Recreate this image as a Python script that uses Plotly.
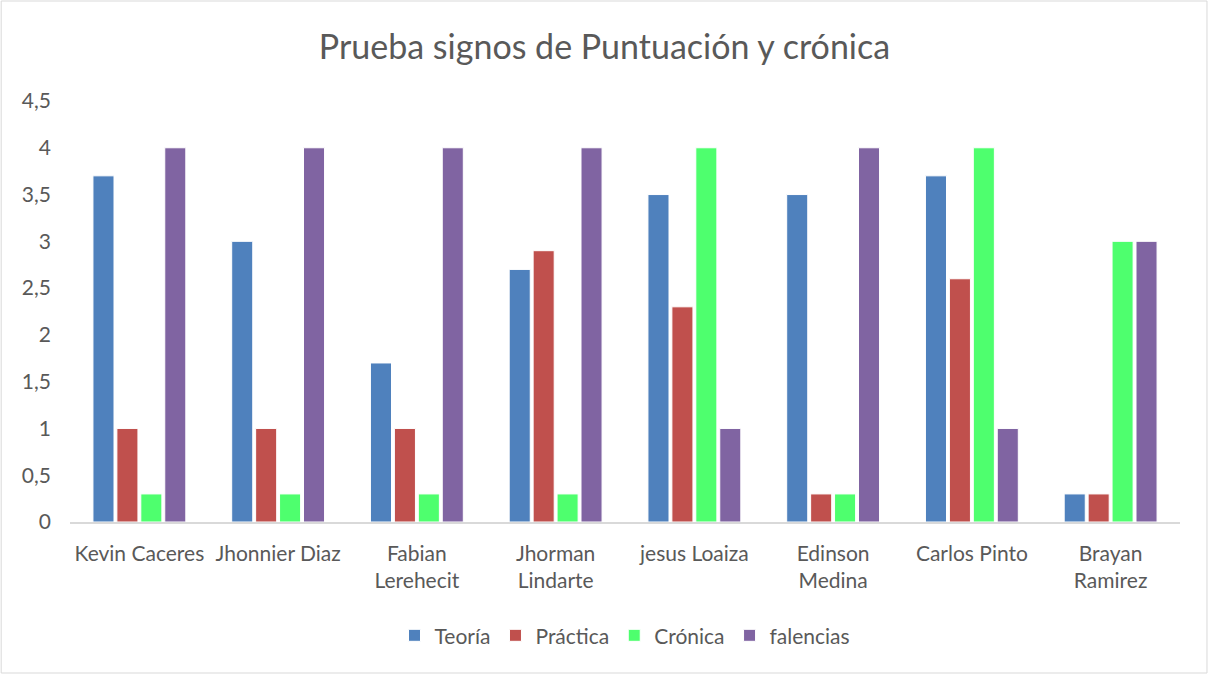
import plotly.graph_objects as go

students = ["Kevin Caceres", "Jhonnier Diaz", "Fabian<br>Lerehecit", "Jhorman<br>Lindarte",
            "jesus Loaiza", "Edinson<br>Medina", "Carlos Pinto", "Brayan<br>Ramirez"]
teoria = [3.7, 3.0, 1.7, 2.7, 3.5, 3.5, 3.7, 0.3]
practica = [1.0, 1.0, 1.0, 2.9, 2.3, 0.3, 2.6, 0.3]
cronica = [0.3, 0.3, 0.3, 0.3, 4.0, 0.3, 4.0, 3.0]
falencias = [4.0, 4.0, 4.0, 4.0, 1.0, 4.0, 1.0, 3.0]

series = [
    ("Teoría", teoria, "#4F81BD"),
    ("Práctica", practica, "#C0504D"),
    ("Crónica", cronica, "#4EFF6E"),
    ("falencias", falencias, "#8064A2"),
]

fig = go.Figure()
for name, values, color in series:
    fig.add_trace(go.Bar(
        x=students, y=values, name=name,
        marker=dict(color=color, line=dict(color="white", width=1)),
    ))

font_family = "Lato, 'Open Sans', sans-serif"
fig.update_layout(
    width=1209, height=675,
    barmode="group", bargap=0.31, bargroupgap=0.12,
    separators=",.",
    paper_bgcolor="white", plot_bgcolor="white",
    margin=dict(l=70, r=29, t=101, b=153),
    font=dict(family=font_family, color="#595959", size=21),
    title=dict(text="Prueba signos de Puntuación y crónica", x=0.5, xanchor="center",
               y=0.93, yanchor="middle", font=dict(size=34, color="#595959")),
    legend=dict(orientation="h", x=0.5, xanchor="center", y=-0.27, yanchor="middle",
                font=dict(size=21, color="#595959"), itemwidth=30, traceorder="normal"),
    showlegend=True,
)
fig.update_xaxes(showline=True, linecolor="#D9D9D9", linewidth=1.5, showgrid=False,
                 ticks="", tickfont=dict(size=21), ticklabelstandoff=12)
fig.update_yaxes(range=[0, 4.5], dtick=0.5, showgrid=False, zeroline=False,
                 ticks="", tickfont=dict(size=21), ticklabelstandoff=18)
fig.add_shape(type="rect", xref="paper", yref="paper",
              x0=-0.062, x1=1.0243, y0=-0.3587, y1=1.2375,
              line=dict(color="#D9D9D9", width=1))

fig.write_html("out.html", config={"displayModeBar": False},
               post_script="document.body.style.margin='0';")
